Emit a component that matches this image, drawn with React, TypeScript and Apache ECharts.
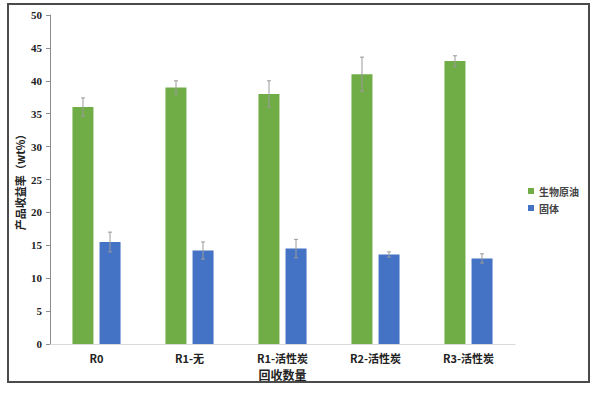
import React, { useEffect, useRef } from "react";
import * as echarts from "echarts";

const categories = ["R0", "R1-无", "R1-活性炭", "R2-活性炭", "R3-活性炭"];
const bioOil = [36, 39, 38, 41, 43];
const bioOilErr = [1.4, 1.0, 2.0, 2.6, 0.8];
const solid = [15.5, 14.2, 14.5, 13.6, 13.0];
const solidErr = [1.5, 1.3, 1.4, 0.4, 0.7];
const seriesNames = ["生物原油", "固体"];
const colors = ["#70AD47", "#4472C4"];

const BAR_W = 21;
const BAR_GAP = 6;

function errData(vals: number[], errs: number[]) {
  return vals.map((v, i) => [i, v - errs[i], v + errs[i]]);
}

function errSeries(vals: number[], errs: number[], dir: number) {
  return {
    type: "custom",
    silent: true,
    z: 10,
    data: errData(vals, errs),
    encode: { x: 0, y: [1, 2] },
    renderItem: (params: any, api: any) => {
      const idx = api.value(0);
      const lo = api.coord([idx, api.value(1)]);
      const hi = api.coord([idx, api.value(2)]);
      const x = lo[0] + dir * (BAR_W + BAR_GAP) / 2;
      const cap = 2;
      const style = { stroke: "#9a9a9a", lineWidth: 1 };
      return {
        type: "group",
        children: [
          { type: "line", shape: { x1: x, y1: lo[1], x2: x, y2: hi[1] }, style },
          { type: "line", shape: { x1: x - cap, y1: hi[1], x2: x + cap, y2: hi[1] }, style },
          { type: "line", shape: { x1: x - cap, y1: lo[1], x2: x + cap, y2: lo[1] }, style },
        ],
      };
    },
  };
}

export default function App() {
  const ref = useRef<HTMLDivElement>(null);
  useEffect(() => {
    const chart = echarts.init(ref.current!, null, { renderer: "svg" });
    chart.setOption({
      animation: false,
      backgroundColor: "#ffffff",
      graphic: [
        {
          type: "rect",
          shape: { x: 8, y: 4, width: 581, height: 378 },
          style: { fill: "none", stroke: "#4a4a4a", lineWidth: 2 },
          silent: true,
        },
      ],
      grid: { left: 50, top: 15, right: 85, bottom: 51 },
      legend: {
        data: seriesNames,
        orient: "vertical",
        left: 523,
        top: 181,
        itemWidth: 6,
        itemHeight: 6,
        itemGap: 7,
        icon: "rect",
        textStyle: {
          fontSize: 10,
          fontFamily: "Noto Sans CJK SC",
          color: "#444",
          fontWeight: "bold",
        },
      },
      xAxis: {
        type: "category",
        data: categories,
        name: "回收数量",
        nameLocation: "middle",
        nameGap: 24,
        nameMoveOverlap: false,
        nameTextStyle: {
          fontSize: 12,
          fontFamily: "Noto Sans CJK SC",
          color: "#222",
          fontWeight: "bold",
        },
        axisLine: { lineStyle: { color: "#d9d9d9", width: 1 } },
        axisTick: { show: false },
        axisLabel: {
          fontSize: 11,
          fontFamily: "Noto Sans CJK SC",
          color: "#222",
          fontWeight: "bold",
          margin: 8,
        },
      },
      yAxis: {
        type: "value",
        min: 0,
        max: 50,
        interval: 5,
        name: "产品收益率（wt%）",
        nameLocation: "middle",
        nameGap: 25,
        nameMoveOverlap: false,
        nameTextStyle: {
          fontSize: 11,
          fontFamily: "Noto Sans CJK SC",
          color: "#222",
          fontWeight: "bold",
        },
        axisLine: { show: true, lineStyle: { color: "#8c8c8c", width: 1 } },
        axisTick: { show: true, length: 4, lineStyle: { color: "#8c8c8c" } },
        splitLine: { show: false },
        axisLabel: {
          fontSize: 11,
          fontFamily: "'Liberation Serif', 'DejaVu Serif', serif",
          fontWeight: "bold",
          color: "#222",
          margin: 8,
        },
      },
      series: [
        {
          name: seriesNames[0],
          type: "bar",
          data: bioOil,
          barWidth: BAR_W,
          barGap: `${Math.round((BAR_GAP / BAR_W) * 100)}%`,
          itemStyle: { color: colors[0] },
        },
        {
          name: seriesNames[1],
          type: "bar",
          data: solid,
          barWidth: BAR_W,
          barGap: `${Math.round((BAR_GAP / BAR_W) * 100)}%`,
          itemStyle: { color: colors[1] },
        },
        errSeries(bioOil, bioOilErr, -1),
        errSeries(solid, solidErr, 1),
      ],
    });
    return () => chart.dispose();
  }, []);
  return (
    <div
      ref={ref}
      style={{ position: "absolute", left: 0, top: 0, width: 600, height: 395 }}
    />
  );
}
